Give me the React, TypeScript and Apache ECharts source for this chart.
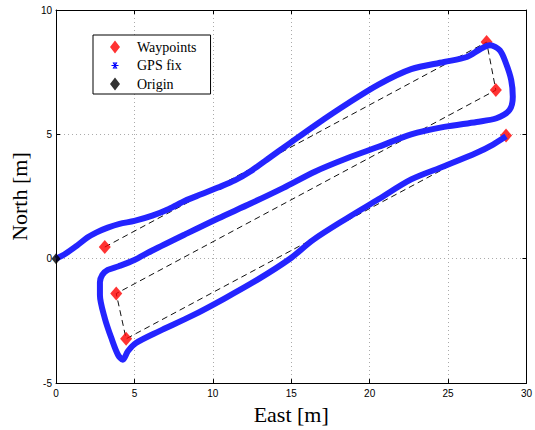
import React, { useEffect, useRef } from "react";
import * as echarts from "echarts";

// Axis ticks
const xMin = 0;
const xMax = 30;
const xStep = 5;
const yMin = -5;
const yMax = 10;
const yStep = 5;

// GPS fix track (East, North) in metres
const gpsEast = [
  0, 0.6, 1.34, 2.0, 2.59, 3.3, 4.05, 5.0, 6.14, 7.2, 8.23, 9.3, 10.33, 11.4, 12.41, 13.46,
  14.92, 16.6, 18.5, 20.56, 22.65, 24.75, 26.2, 27.04, 27.67, 28.3, 28.7, 29.03, 29.13,
  28.92, 28.09, 26.83, 24.75, 22.65, 20.56, 18.6, 16.5, 14.5, 12.41, 10.33, 8.23, 6.14,
  5.0, 4.0, 3.3, 2.95, 2.8, 2.8, 3.11, 3.53, 3.95, 4.26, 4.58, 5.1, 6.56, 8.65, 10.74,
  12.83, 14.92, 16.38, 18.48, 20.56, 22.65, 24.75, 26.83, 27.87, 28.7,
];
const gpsNorth = [
  0, 0.2, 0.53, 0.85, 1.06, 1.25, 1.4, 1.52, 1.73, 2.0, 2.33, 2.6, 2.86, 3.15, 3.52, 3.99,
  4.65, 5.4, 6.2, 7.0, 7.62, 7.91, 8.11, 8.42, 8.58, 8.38, 7.85, 7.18, 6.51,
  5.98, 5.65, 5.5, 5.3, 5.0, 4.5, 4.05, 3.5, 2.85, 2.22, 1.62, 0.98, 0.33,
  -0.05, -0.3, -0.45, -0.65, -0.95, -1.46, -2.39, -3.19, -3.86, -4.06, -3.72, -3.39, -2.92,
  -2.3, -1.6, -0.85, 0.0, 0.75, 1.6, 2.39, 3.19, 3.72, 4.26, 4.59, 4.92,
];

// Waypoints
const waypointEast = [3.11, 27.46, 28.05, 3.84, 4.47, 28.7];
const waypointNorth = [0.47, 8.71, 6.78, -1.4, -3.22, 4.95];

// Origin
const originEast = [0];
const originNorth = [0];

// legend icons drawn in a 34 x 13 box (same as itemWidth x itemHeight)
const diamondIcon = "path://M0 0L0 0ZM34 13L34 13ZM17 0L22 6.5L17 13L12 6.5Z";
const asteriskIcon =
  "path://M0 0L0 0ZM34 13L34 13Z" +
  "M13.5 6L20.5 6L20.5 7L13.5 7Z" +
  "M16.5 3L17.5 3L17.5 10L16.5 10Z" +
  "M14.6 3.8L15.3 3.1L19.4 9.2L18.7 9.9Z" +
  "M18.7 3.1L19.4 3.8L15.3 9.9L14.6 9.2Z";

const zip = (a: number[], b: number[]) => a.map((v, i) => [v, b[i]]);

export default function App() {
  const ref = useRef<HTMLDivElement>(null);

  useEffect(() => {
    if (!ref.current) return;
    const chart = echarts.init(ref.current, undefined, { renderer: "svg" });
    const tickFont = { color: "#000", fontFamily: "Liberation Sans", fontSize: 10 };
    const nameFont = { color: "#000", fontFamily: "Liberation Serif", fontSize: 22 };
    const axisLine = { show: true, onZero: false, lineStyle: { color: "#000", width: 1 } };
    const axisTick = { show: true, inside: true, length: 4, lineStyle: { color: "#000" } };
    const grid = { show: true, lineStyle: { color: "#aaa", width: 1, type: [1, 3] as any } };

    chart.setOption({
      animation: false,
      backgroundColor: "#fff",
      grid: { left: 52, right: 4.5, top: 10, bottom: 44, containLabel: false },
      legend: {
        orient: "vertical",
        left: 93,
        top: 35,
        padding: [5, 14, 3, 5],
        itemWidth: 34,
        itemHeight: 13,
        itemGap: 4.5,
        borderColor: "#000",
        borderWidth: 1,
        backgroundColor: "#fff",
        itemStyle: { borderWidth: 0 },
        textStyle: { color: "#000", fontFamily: "Liberation Serif", fontSize: 14 },
        data: [
          { name: "Waypoints", icon: diamondIcon },
          { name: "GPS fix", icon: asteriskIcon },
          { name: "Origin", icon: diamondIcon },
        ],
      },
      xAxis: [
        {
          type: "value",
          min: xMin,
          max: xMax,
          interval: xStep,
          position: "bottom",
          name: "East [m]",
          nameLocation: "middle",
          nameGap: 17,
          nameTextStyle: nameFont,
          axisLine,
          axisTick,
          axisLabel: { ...tickFont, margin: 5 },
          splitLine: grid,
        },
        {
          type: "value",
          min: xMin,
          max: xMax,
          interval: xStep,
          position: "top",
          axisLine,
          axisTick,
          axisLabel: { show: false },
          splitLine: { show: false },
        },
      ],
      yAxis: [
        {
          type: "value",
          min: yMin,
          max: yMax,
          interval: yStep,
          position: "left",
          name: "North [m]",
          nameLocation: "middle",
          nameGap: 19,
          nameRotate: 90,
          nameTextStyle: nameFont,
          axisLine,
          axisTick,
          axisLabel: { ...tickFont, margin: 4 },
          splitLine: grid,
        },
        {
          type: "value",
          min: yMin,
          max: yMax,
          interval: yStep,
          position: "right",
          axisLine,
          axisTick,
          axisLabel: { show: false },
          splitLine: { show: false },
        },
      ],
      series: [
        {
          name: "route",
          type: "line",
          data: zip(waypointEast, waypointNorth),
          symbol: "none",
          silent: true,
          z: 1,
          lineStyle: { color: "#111", width: 1, type: [6, 4] },
        },
        {
          name: "Waypoints",
          type: "scatter",
          data: zip(waypointEast, waypointNorth),
          symbol: "diamond",
          symbolSize: [12, 14],
          itemStyle: { color: "#ff0000" },
          z: 2,
        },
        {
          name: "GPS fix",
          type: "line",
          data: zip(gpsEast, gpsNorth),
          smooth: 0.3,
          symbol: "none",
          itemStyle: { color: "#0000ff" },
          lineStyle: { color: "#2424ff", width: 6 },
          z: 3,
        },
        {
          name: "Origin",
          type: "scatter",
          data: zip(originEast, originNorth),
          symbol: "diamond",
          symbolSize: [9, 11],
          itemStyle: { color: "#000" },
          z: 4,
        },
      ],
    });
    return () => chart.dispose();
  }, []);

  return (
    <div
      ref={ref}
      style={{ position: "absolute", left: 0, top: 0, width: 535, height: 430, background: "#fff" }}
    />
  );
}
